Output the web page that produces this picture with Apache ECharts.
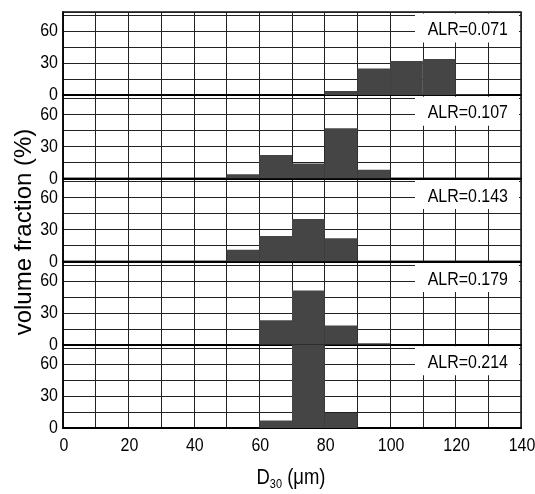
<!DOCTYPE html>
<html>
<head>
<meta charset="utf-8">
<script src="https://cdn.jsdelivr.net/npm/echarts@6/dist/echarts.min.js"></script>
<style>html,body{margin:0;padding:0;background:#fff;}#c{width:535px;height:494px;}</style>
</head>
<body>
<div id="c"></div>
<script>
// bin left edges (µm) and bin width
const binLeft = [0,10,20,30,40,50,60,70,80,90,100,110,120,130];
const binWidth = 10;
// volume fraction (%) per bin for each ALR
const alrLabels = ['ALR=0.071','ALR=0.107','ALR=0.143','ALR=0.179','ALR=0.214'];
const alr071 = [0,0,0,0,0,0,0,0,4,25,32,34,1,0];
const alr107 = [0,0,0,0,0,4,22,14,47,8,0,0,0,0];
const alr143 = [0,0,0,0,0,11,24,40,22,0,0,0,0,0];
const alr179 = [0,0,0,0,0,0,23,51,18,1.5,0,0,0,0];
const alr214 = [0,0,0,0,0,0,7,80,14,0,0,0,0,0];
const panels = [alr071, alr107, alr143, alr179, alr214];
const yTicks = [0,30,60];
const xTicks = [0,20,40,60,80,100,120,140];
const yTitle = 'volume fraction (%)';

const FONT = "'Liberation Sans',Arial,sans-serif";
const SX = 0.84; // horizontally condensed lettering as in the reference
const chart = echarts.init(document.getElementById('c'), null, {renderer:'canvas'});
const top0 = 12, ph = 83.2;
const grids = [], xAxes = [], yAxes = [], series = [];
panels.forEach((vals, i) => {
  grids.push({left:63, right:14, top: top0 + i*ph, height: ph, show:true, borderColor:'#111', borderWidth:1.5,
    backgroundColor:'transparent', containLabel:false, outerBoundsMode:'none'});
  xAxes.push({type:'value', gridIndex:i, min:0, max:140, interval:10,
    axisLine:{show:true, onZero:false, lineStyle:{color:'#000', width:2}},
    axisTick:{show:false},
    splitLine:{show:true, lineStyle:{color:'#222', width:1}},
    axisLabel:{show:false}
  });
  yAxes.push({type:'value', gridIndex:i, min:0, max:78, interval:15,
    axisLine:{show:true, lineStyle:{color:'#000', width:1.5}},
    axisTick:{show:false},
    splitLine:{show:true, lineStyle:{color:'#222', width:1}},
    axisLabel:{show:false}
  });
  series.push({type:'custom', xAxisIndex:i, yAxisIndex:i, clip:true,
    data: binLeft.map((b, k) => [b, vals[k]]),
    renderItem: (params, api) => {
      const x0 = api.value(0), v = api.value(1);
      if (!v) return null;
      const p0 = api.coord([x0, 0]);
      const p1 = api.coord([x0 + binWidth, v]);
      return {type:'rect', shape:{x:p0[0], y:p1[1], width:p1[0]-p0[0], height:p0[1]-p1[1]},
        style:{fill:'#454545'}};
    }
  });
});

chart.setOption({animation:false, grid: grids, xAxis: xAxes, yAxis: yAxes, series: series});

// tick labels and annotations placed through the axes' own scales
const g = [];
panels.forEach((_, i) => {
  yTicks.forEach(v => {
    const p = chart.convertToPixel({gridIndex:i}, [0, v]);
    g.push({type:'text', x:p[0]-5, y:p[1], scaleX:SX, z:10,
      style:{text:String(v), align:'right', verticalAlign:'middle', font:'19px ' + FONT, fill:'#000'}});
  });
  const tr = chart.convertToPixel({gridIndex:i}, [140, 78]);
  g.push({type:'rect', x:tr[0]-106, y:tr[1]+1.5, z:10, shape:{width:104, height:29}, style:{fill:'#fff'}});
  g.push({type:'text', x:tr[0]-13, y:tr[1]+18, scaleX:SX, z:11,
    style:{text:alrLabels[i], align:'right', verticalAlign:'middle', font:'19px ' + FONT, fill:'#000'}});
});
xTicks.forEach(v => {
  const p = chart.convertToPixel({gridIndex:panels.length-1}, [v, 0]);
  g.push({type:'text', x:p[0]+1, y:p[1]+8, scaleX:SX, z:10,
    style:{text:String(v), align:'center', verticalAlign:'top', font:'19px ' + FONT, fill:'#000'}});
});
g.push({type:'text', x:24, y:232, rotation:Math.PI/2, z:10,
  style:{text:yTitle, fill:'#000', font:'24px ' + FONT, align:'center', verticalAlign:'middle'}});
g.push({type:'text', x:291, y:478, scaleX:SX, z:10,
  style:{text:'{a|D}{s|30}{a| (μm)}', align:'center', verticalAlign:'middle',
    rich:{a:{fontSize:22, fontFamily:FONT, fill:'#000'}, s:{fontSize:13, fontFamily:FONT, fill:'#000', padding:[12,0,0,0]}}}});
chart.setOption({graphic: g});
</script>
</body>
</html>
